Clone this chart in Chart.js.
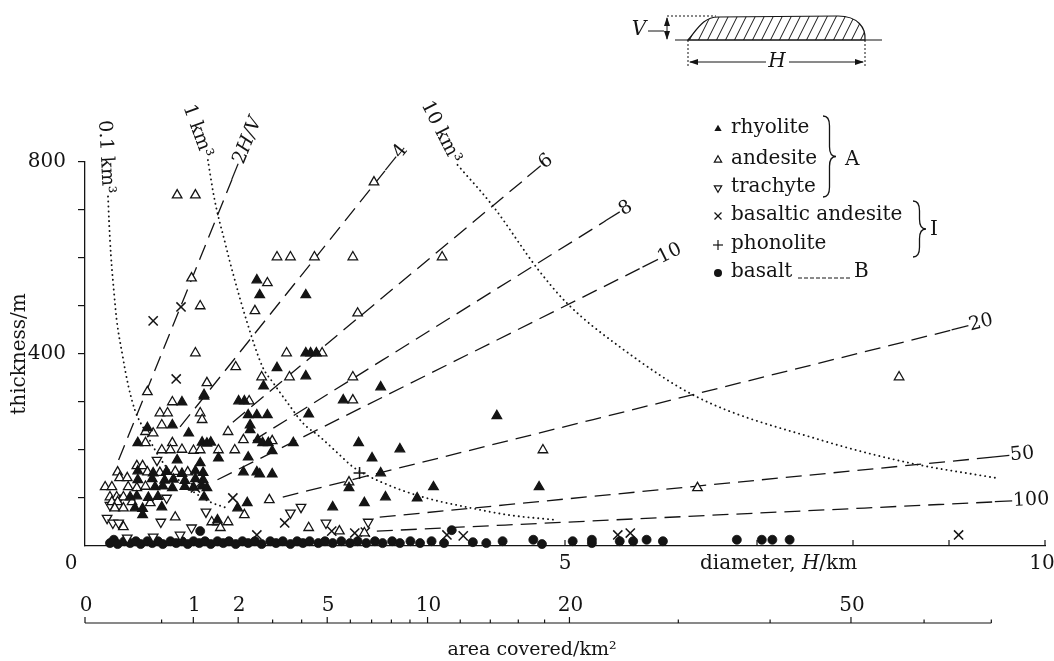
<!DOCTYPE html>
<html>
<head>
<meta charset="utf-8">
<script src="https://cdn.jsdelivr.net/npm/chart.js@4.4.1/dist/chart.umd.min.js"></script>
<style>
  html, body { margin: 0; padding: 0; background: #fff; }
</style>
</head>
<body>
<canvas id="chart" width="1054" height="661"></canvas>
<script>
const SERIF = '"DejaVu Serif", "Liberation Serif", serif'
const INK = "#141414"

// [diameter H (km), thickness V (m)]
const rhyolite = [
  [1.79, 554], [1.82, 523], [2.30, 523], [2.00, 371], [2.30, 354], [1.86, 333], [1.60, 302], [1.66, 302],
  [2.69, 304], [1.01, 300], [1.24, 312], [2.30, 402], [2.35, 402], [2.41, 402], [1.70, 273], [1.79, 273],
  [1.90, 273], [2.33, 275], [0.91, 252], [1.72, 252], [0.65, 246], [1.72, 242], [1.08, 235], [1.80, 221],
  [0.55, 215], [1.22, 216], [1.27, 214], [1.31, 216], [1.85, 215], [1.91, 215], [2.17, 215], [2.85, 215],
  [1.95, 198], [3.28, 202], [1.70, 185], [0.96, 179], [1.39, 183], [2.99, 183], [1.20, 173], [1.65, 154],
  [1.79, 154], [0.55, 156], [0.71, 152], [0.85, 155], [1.01, 151], [1.15, 156], [1.23, 153], [1.82, 150],
  [1.95, 150], [3.08, 152], [0.55, 138], [0.70, 140], [0.83, 137], [0.92, 139], [1.04, 136], [1.15, 140],
  [1.23, 138], [0.73, 123], [0.81, 125], [0.91, 121], [1.04, 124], [1.13, 122], [1.22, 125], [1.27, 121],
  [2.75, 121], [3.63, 123], [4.73, 123], [0.47, 102], [0.54, 104], [0.66, 101], [0.76, 103], [1.24, 102],
  [3.13, 102], [3.46, 100], [1.69, 90], [2.91, 90], [0.80, 81], [2.58, 81], [1.59, 79], [0.52, 79],
  [0.60, 78], [0.60, 65], [1.38, 54], [4.29, 271], [3.08, 331]
]
const andesite = [
  [0.96, 731], [1.15, 731], [3.01, 758], [1.11, 558], [1.90, 548], [2.00, 602], [2.14, 602], [2.39, 602],
  [2.79, 602], [3.72, 602], [1.20, 500], [1.77, 490], [2.84, 485], [1.15, 402], [2.10, 402], [2.47, 402],
  [1.57, 373], [1.84, 352], [2.13, 352], [2.79, 352], [1.27, 340], [1.24, 315], [1.71, 302], [2.79, 304],
  [0.65, 321], [0.91, 300], [0.78, 277], [0.86, 277], [1.20, 277], [1.22, 263], [0.80, 252], [0.63, 238],
  [0.71, 235], [1.49, 238], [1.65, 221], [1.95, 219], [0.63, 215], [0.91, 215], [0.80, 200], [0.89, 200],
  [1.01, 201], [1.13, 199], [1.20, 200], [1.39, 200], [1.56, 200], [0.54, 167], [0.60, 167], [0.34, 154],
  [0.65, 154], [0.78, 153], [0.94, 155], [1.07, 154], [0.36, 142], [0.44, 142], [2.75, 133], [0.21, 123],
  [0.28, 123], [0.45, 123], [0.54, 121], [0.63, 124], [6.38, 121], [0.26, 102], [0.33, 102], [0.40, 102],
  [1.92, 96], [0.28, 92], [0.34, 92], [0.49, 92], [0.68, 90], [0.31, 79], [0.40, 79], [1.66, 65],
  [0.94, 60], [1.32, 50], [1.38, 50], [1.49, 50], [0.40, 40], [1.41, 38], [2.33, 38], [2.65, 31],
  [2.91, 27], [4.77, 200], [8.48, 352]
]
const trachyte = [
  [0.75, 179], [0.85, 100], [1.26, 71], [0.23, 58], [0.29, 48], [0.35, 48], [0.79, 50], [1.11, 38],
  [0.71, 19], [0.99, 23], [0.44, 17], [0.36, 100], [0.26, 85], [2.14, 69], [2.25, 81], [2.51, 48], [2.95, 50]
]
const basalticAndesite = [
  [1.00, 498], [0.71, 469], [0.95, 348], [1.15, 121], [1.54, 100], [1.79, 23], [2.08, 48], [2.57, 31],
  [2.81, 27], [2.92, 29], [3.77, 23], [3.94, 21], [5.55, 23], [5.68, 27], [9.10, 23]
]
const phonolite = [[2.86, 152]]
const basalt = [
  [0.26, 6], [0.30, 13], [0.34, 4], [0.41, 10], [0.47, 6], [0.53, 10], [0.58, 4], [0.65, 10], [0.70, 6],
  [0.76, 10], [0.81, 4], [0.89, 10], [0.95, 6], [1.01, 10], [1.07, 4], [1.13, 10], [1.19, 6], [1.20, 31],
  [1.25, 10], [1.31, 4], [1.38, 10], [1.44, 6], [1.50, 10], [1.57, 4], [1.64, 10], [1.70, 6], [1.77, 10],
  [1.84, 4], [1.93, 10], [1.99, 6], [2.06, 10], [2.14, 4], [2.21, 10], [2.27, 6], [2.34, 10], [2.43, 6],
  [2.50, 10], [2.58, 6], [2.67, 10], [2.76, 6], [2.84, 10], [2.93, 6], [3.02, 10], [3.10, 6], [3.20, 10],
  [3.28, 6], [3.39, 10], [3.49, 6], [3.61, 10], [3.74, 6], [3.82, 33], [4.04, 8], [4.18, 6], [4.35, 10],
  [4.67, 13], [4.76, 4], [5.08, 10], [5.28, 13], [5.28, 6], [5.57, 10], [5.71, 10], [5.85, 13], [6.02, 10],
  [6.79, 13], [7.05, 13], [7.16, 13], [7.34, 13]
]

// lines of constant aspect ratio H/V, drawn end to end
const ratioLabels = ["2", "4", "6", "8", "10", "20", "50", "100"]
const ratioStart = [[0.35, 179], [0.99, 248], [1.54, 258], [1.75, 219], [1.38, 138], [2.06, 102], [3.07, 60], [3.04, 31]]
const ratioEnd = [[1.53, 763], [3.13, 783], [4.61, 769], [5.42, 677], [5.81, 581], [9.03, 450], [9.45, 185], [9.48, 92]]

// curves of constant volume
const volumeLabels = ["0.1 km³", "1 km³", "10 km³"]
const volume01 = [
  [0.24, 728], [0.25, 679], [0.27, 606], [0.30, 533], [0.33, 471], [0.39, 398], [0.45, 335], [0.52, 283],
  [0.63, 238], [0.73, 200], [0.83, 169], [0.99, 135], [1.15, 110], [1.30, 92], [1.48, 79]
]
const volume1 = [
  [1.28, 804], [1.35, 721], [1.46, 631], [1.54, 569], [1.69, 465], [1.85, 373], [1.96, 340], [2.14, 290],
  [2.27, 256], [2.45, 227], [2.63, 194], [2.79, 165], [2.97, 144], [3.21, 123], [3.39, 110], [3.63, 96],
  [3.88, 85], [4.40, 65], [4.92, 54]
]
const volume10 = [
  [3.88, 794], [4.25, 708], [4.72, 576], [5.02, 506], [5.57, 415], [6.38, 310], [7.66, 221], [8.59, 173], [9.48, 142]
]

const diameterTicks = [1, 2, 3, 4, 5, 6, 7, 8, 9, 10]
const diameterLabels = [0, 5, 10]
const thicknessLabels = [400, 800]
const areaLabels = [0, 1, 2, 5, 10, 20, 50]
const areaMinor = [0.5, 3, 4, 6, 7, 8, 9, 12, 14, 16, 18, 30, 40, 60, 70]
const legendLabels = ["rhyolite", "andesite", "trachyte", "basaltic andesite", "phonolite", "basalt"]

const toXY = (rows) => rows.map(([h, v]) => ({ x: h, y: v }))

function pointSet(rows, style) {
  return Object.assign({
    data: toXY(rows),
    borderColor: INK,
    borderWidth: 1.3,
    pointRadius: 5.5,
    order: 0,
    clip: false
  }, style)
}

function curveSet(rows, dash) {
  const dotted = dash[0] < 1
  return {
    data: toXY(rows),
    showLine: true,
    pointRadius: 0,
    borderColor: INK,
    borderWidth: dotted ? 1.9 : 1.3,
    borderDash: dash,
    borderCapStyle: dotted ? "round" : "butt",
    cubicInterpolationMode: "monotone",
    fill: false,
    order: 1,
    clip: false
  }
}

const datasets = [
  pointSet(rhyolite, { label: "rhyolite", pointStyle: "triangle", backgroundColor: INK }),
  pointSet(andesite, { label: "andesite", pointStyle: "triangle", backgroundColor: "#fff" }),
  pointSet(trachyte, { label: "trachyte", pointStyle: "triangle", rotation: 180, backgroundColor: "#fff" }),
  pointSet(basalticAndesite, { label: "basaltic andesite", pointStyle: "crossRot", pointRadius: 6.5, borderWidth: 1.5 }),
  pointSet(phonolite, { label: "phonolite", pointStyle: "cross", pointRadius: 6, borderWidth: 1.5 }),
  pointSet(basalt, { label: "basalt", pointStyle: "circle", pointRadius: 4.5, backgroundColor: INK, borderWidth: 0.8 }),
  ...ratioLabels.map((lab, i) => curveSet([ratioStart[i], ratioEnd[i]], [16, 8])),
  curveSet(volume01, [0.1, 4.8]),
  curveSet(volume1, [0.1, 4.8]),
  curveSet(volume10, [0.1, 4.8])
]

function drawRich(ctx, parts, x, y, size, align) {
  const font = (p) => `${p.i ? "italic " : ""}${size}px ${SERIF}`
  let total = 0
  parts.forEach((p) => { ctx.font = font(p); total += ctx.measureText(p.t).width })
  let cx = align === "center" ? x - total / 2 : x
  ctx.textAlign = "left"
  parts.forEach((p) => {
    ctx.font = font(p)
    ctx.fillText(p.t, cx, y)
    cx += ctx.measureText(p.t).width
  })
}

function line(ctx, x1, y1, x2, y2) {
  ctx.beginPath()
  ctx.moveTo(x1, y1)
  ctx.lineTo(x2, y2)
  ctx.stroke()
}

function arrowHead(ctx, x, y, dx, dy) {
  ctx.beginPath()
  ctx.moveTo(x, y)
  ctx.lineTo(x - dx * 9 - dy * 3, y - dy * 9 - dx * 3)
  ctx.lineTo(x - dx * 9 + dy * 3, y - dy * 9 + dx * 3)
  ctx.closePath()
  ctx.fill()
}

function brace(ctx, x, y1, y2, w) {
  const mid = (y1 + y2) / 2
  const h = w / 2
  ctx.beginPath()
  ctx.moveTo(x, y1)
  ctx.quadraticCurveTo(x + h, y1, x + h, y1 + h * 1.5)
  ctx.lineTo(x + h, mid - h * 1.5)
  ctx.quadraticCurveTo(x + h, mid, x + w, mid)
  ctx.quadraticCurveTo(x + h, mid, x + h, mid + h * 1.5)
  ctx.lineTo(x + h, y2 - h * 1.5)
  ctx.quadraticCurveTo(x + h, y2, x, y2)
  ctx.stroke()
}

function legendMarker(ctx, kind, x, y) {
  const r = 4.2
  ctx.beginPath()
  if (kind === 0 || kind === 1) {
    ctx.moveTo(x, y - r)
    ctx.lineTo(x + r * 0.87, y + r * 0.5)
    ctx.lineTo(x - r * 0.87, y + r * 0.5)
    ctx.closePath()
    kind === 0 ? ctx.fill() : ctx.stroke()
  } else if (kind === 2) {
    ctx.moveTo(x, y + r)
    ctx.lineTo(x + r * 0.87, y - r * 0.5)
    ctx.lineTo(x - r * 0.87, y - r * 0.5)
    ctx.closePath()
    ctx.stroke()
  } else if (kind === 3) {
    line(ctx, x - 3.5, y - 3.5, x + 3.5, y + 3.5)
    line(ctx, x - 3.5, y + 3.5, x + 3.5, y - 3.5)
  } else if (kind === 4) {
    line(ctx, x - 5, y, x + 5, y)
    line(ctx, x, y - 5, x, y + 5)
  } else {
    ctx.arc(x, y, 4, 0, Math.PI * 2)
    ctx.fill()
  }
}

const annotations = {
  id: "annotations",
  afterDraw(chart) {
    const { ctx } = chart
    const px = (h) => chart.scales.x.getPixelForValue(h)
    const py = (v) => chart.scales.y.getPixelForValue(v)
    const areaToH = (a) => Math.sqrt(4 * a / Math.PI)

    ctx.save()
    ctx.strokeStyle = INK
    ctx.fillStyle = INK
    ctx.lineWidth = 1.2
    ctx.textBaseline = "middle"

    // diameter axis ticks point up into the plot
    diameterTicks.forEach((h) => line(ctx, px(h), py(0), px(h), py(0) - 6))
    ctx.font = `20px ${SERIF}`
    ctx.textAlign = "center"
    diameterLabels.forEach((h) => {
      const dx = h === 0 ? -14 : h === 10 ? -3 : 0
      ctx.fillText(String(h), px(h) + dx, py(0) + 18)
    })
    drawRich(ctx, [{ t: "diameter, " }, { t: "H", i: true }, { t: "/km" }], 700, py(0) + 18, 20, "left")

    // area axis under the diameter axis
    const yA = 623
    line(ctx, px(0), yA, px(areaToH(70)), yA)
    areaLabels.forEach((a) => line(ctx, px(areaToH(a)), yA, px(areaToH(a)), yA - 6))
    areaMinor.forEach((a) => line(ctx, px(areaToH(a)), yA, px(areaToH(a)), yA - 3.5))
    ctx.font = `20px ${SERIF}`
    ctx.textAlign = "center"
    areaLabels.forEach((a) => ctx.fillText(String(a), px(areaToH(a)) + 1, 606))
    ctx.font = `19px ${SERIF}`
    ctx.fillText("area covered/km²", 532, 650)

    // y title
    ctx.save()
    ctx.translate(20, py(400))
    ctx.rotate(-Math.PI / 2)
    ctx.font = `20px ${SERIF}`
    ctx.fillText("thickness/m", 0, 0)
    ctx.restore()

    // aspect ratio labels run along their lines
    ratioLabels.forEach((lab, i) => {
      const x1 = px(ratioStart[i][0]), y1 = py(ratioStart[i][1])
      const x2 = px(ratioEnd[i][0]), y2 = py(ratioEnd[i][1])
      ctx.save()
      ctx.translate(x2, y2)
      ctx.rotate(Math.atan2(y2 - y1, x2 - x1))
      const parts = lab === "2" ? [{ t: "—2" }, { t: "H/V", i: true }] : [{ t: "—" + lab }]
      drawRich(ctx, parts, -1, 0, 19, "left")
      ctx.restore()
    })

    // volume labels sit above the start of each dotted curve
    const volumeStarts = [volume01[0], volume1[0], volume10[0]]
    const volumeAngles = [87, 70, 63]
    volumeLabels.forEach((lab, i) => {
      ctx.save()
      ctx.translate(px(volumeStarts[i][0]), py(volumeStarts[i][1]))
      ctx.rotate(volumeAngles[i] * Math.PI / 180)
      ctx.font = `19px ${SERIF}`
      ctx.textAlign = "right"
      ctx.fillText(lab, -3, 0)
      ctx.restore()
    })

    // legend
    const legendY = [128, 159, 187, 215, 244, 272]
    ctx.lineWidth = 1.2
    legendLabels.forEach((lab, i) => {
      legendMarker(ctx, i, 718, legendY[i] + 1)
      ctx.font = `20px ${SERIF}`
      ctx.textAlign = "left"
      ctx.fillText(lab, 731, legendY[i])
    })
    ctx.save()
    ctx.setLineDash([4, 2])
    ctx.lineWidth = 1
    line(ctx, 798, 278, 852, 278)
    ctx.restore()
    ctx.fillText("B", 854, 272)
    ctx.lineWidth = 1.3
    brace(ctx, 823, 116, 197, 13)
    brace(ctx, 913, 201, 257, 13)
    ctx.fillText("A", 845, 160)
    ctx.fillText("I", 930, 230)

    // inset sketch of a flow in section
    ctx.lineWidth = 1.2
    line(ctx, 675, 40, 882, 40)
    ctx.beginPath()
    ctx.moveTo(688, 40)
    ctx.bezierCurveTo(698, 28, 704, 17, 718, 17)
    ctx.lineTo(838, 16)
    ctx.bezierCurveTo(858, 16, 866, 28, 865, 40)
    ctx.closePath()
    ctx.stroke()
    ctx.save()
    ctx.clip()
    ctx.lineWidth = 1
    for (let k = 680; k < 880; k += 9) line(ctx, k, 41, k + 13, 15)
    ctx.restore()
    ctx.save()
    ctx.setLineDash([2, 2])
    ctx.lineWidth = 1
    line(ctx, 667, 16, 716, 16)
    line(ctx, 688, 40, 688, 68)
    line(ctx, 865, 40, 865, 68)
    ctx.restore()
    ctx.lineWidth = 1
    line(ctx, 667, 18, 667, 39)
    arrowHead(ctx, 667, 17, 0, -1)
    arrowHead(ctx, 667, 40, 0, 1)
    line(ctx, 648, 31, 664, 31)
    line(ctx, 690, 62, 766, 62)
    line(ctx, 789, 62, 863, 62)
    arrowHead(ctx, 689, 62, -1, 0)
    arrowHead(ctx, 864, 62, 1, 0)
    ctx.textAlign = "center"
    ctx.font = `italic 20px ${SERIF}`
    ctx.fillText("H", 777, 62)
    ctx.fillText("V", 639, 30)

    ctx.restore()
  }
}

new Chart(document.getElementById("chart"), {
  type: "scatter",
  data: { datasets },
  options: {
    responsive: false,
    animation: false,
    events: [],
    layout: { padding: { top: 162, right: 9, bottom: 105, left: 0 } },
    plugins: {
      legend: { display: false },
      tooltip: { enabled: false }
    },
    scales: {
      x: {
        type: "linear",
        min: 0,
        max: 10,
        afterFit: (scale) => { scale.height = 10 },
        grid: { display: false, drawTicks: false },
        border: { display: true, color: INK, width: 1.3 },
        ticks: { display: false, stepSize: 1 }
      },
      y: {
        type: "linear",
        min: 0,
        max: 800,
        afterFit: (scale) => { scale.width = 85 },
        grid: {
          drawOnChartArea: false,
          tickLength: 7,
          lineWidth: 1.2,
          color: INK,
          tickColor: (c) => (c.tick && c.tick.value === 0 ? "rgba(0,0,0,0)" : INK)
        },
        border: { display: true, color: INK, width: 1.3 },
        ticks: {
          stepSize: 100,
          padding: 12,
          color: INK,
          font: { family: SERIF, size: 20 },
          callback: (v) => (thicknessLabels.includes(v) ? String(v) : "")
        }
      }
    }
  },
  plugins: [annotations]
})
</script>
</body>
</html>
